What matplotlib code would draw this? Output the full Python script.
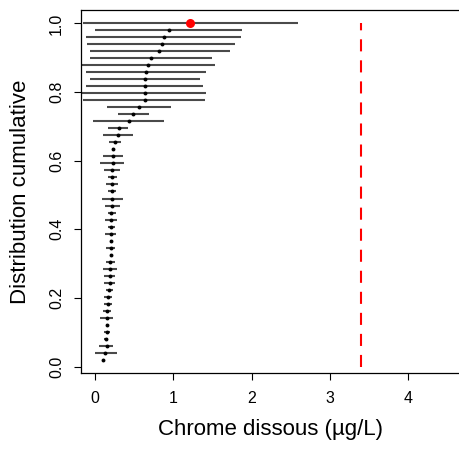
import numpy as np
import matplotlib.pyplot as plt

plt.rcParams['font.family'] = ['Liberation Sans', 'DejaVu Sans']

# valeurs estimées (du haut vers le bas) et bornes des intervalles
est = [1.22, 0.94, 0.88, 0.85, 0.82, 0.71, 0.68, 0.65, 0.64, 0.64,
       0.64, 0.64, 0.56, 0.49, 0.43, 0.31, 0.29, 0.255, 0.23, 0.23,
       0.225, 0.22, 0.22, 0.22, 0.22, 0.22, 0.22, 0.21, 0.205, 0.205,
       0.20, 0.20, 0.20, 0.20, 0.195, 0.19, 0.187, 0.187, 0.183, 0.166,
       0.162, 0.157, 0.15, 0.15, 0.15, 0.14, 0.149, 0.128, 0.106]
lo = [-0.15, 0.00, -0.11, -0.10, -0.07, -0.07, -0.20, -0.115, -0.06, -0.12,
      -0.18, -0.15, 0.15, 0.30, -0.03, 0.17, 0.10, 0.18, 0.215, 0.10,
      0.07, 0.12, 0.16, 0.14, 0.17, 0.09, 0.13, 0.16, 0.13, 0.16,
      0.13, 0.19, 0.14, 0.19, 0.14, 0.10, 0.115, 0.115, 0.14, 0.115,
      0.115, 0.105, 0.065, 0.14, 0.115, 0.12, 0.055, 0.0, 0.10]
hi = [2.59, 1.88, 1.86, 1.79, 1.72, 1.50, 1.53, 1.42, 1.34, 1.38,
      1.42, 1.40, 0.97, 0.69, 0.885, 0.425, 0.48, 0.33, 0.245, 0.36,
      0.37, 0.32, 0.285, 0.30, 0.27, 0.355, 0.32, 0.265, 0.285, 0.25,
      0.27, 0.21, 0.26, 0.21, 0.255, 0.28, 0.26, 0.255, 0.235, 0.217,
      0.213, 0.205, 0.235, 0.16, 0.19, 0.17, 0.235, 0.277, 0.112]
seuil = 3.4

n = len(est)
ycum = np.arange(n, 0, -1) / n

fig = plt.figure(figsize=(4.59, 4.50), dpi=100)
ax = fig.add_axes([80.9 / 459, 77 / 450, 380.4 / 459, 363 / 450])

ax.hlines(ycum, lo, hi, color='#4a4a4a', lw=1.5)
ax.plot(est[1:], ycum[1:], 'o', color='black', ms=2.8, mew=0)
ax.plot(est[:1], ycum[:1], 'o', color='red', ms=6.5, mew=0)
ax.plot([seuil, seuil], [0, 1], color='red', lw=1.5, linestyle=(0, (5.8, 4.3)))

ax.set_xlim(-0.18, 4.68)
ax.set_ylim(-0.0188, 1.0392)
ax.set_xticks([0, 1, 2, 3, 4])
ax.set_yticks([0.0, 0.2, 0.4, 0.6, 0.8, 1.0])
ax.set_yticklabels(['0.0', '0.2', '0.4', '0.6', '0.8', '1.0'], rotation=90, va='center')
ax.tick_params(length=5, width=0.8, labelsize=11.5)
ax.tick_params(axis='x', pad=8)
ax.tick_params(axis='y', pad=7)
ax.spines['right'].set_visible(False)
for s in ['left', 'bottom', 'top']:
    ax.spines[s].set_linewidth(0.9)

ax.set_xlabel('Chrome dissous (µg/L)', fontsize=16, va='center')
ax.xaxis.set_label_coords(0.498, -0.157)
ax.set_ylabel('Distribution cumulative', fontsize=16, va='center')
ax.yaxis.set_label_coords(-0.158, 0.5)

fig.savefig('out.png', dpi=100)
